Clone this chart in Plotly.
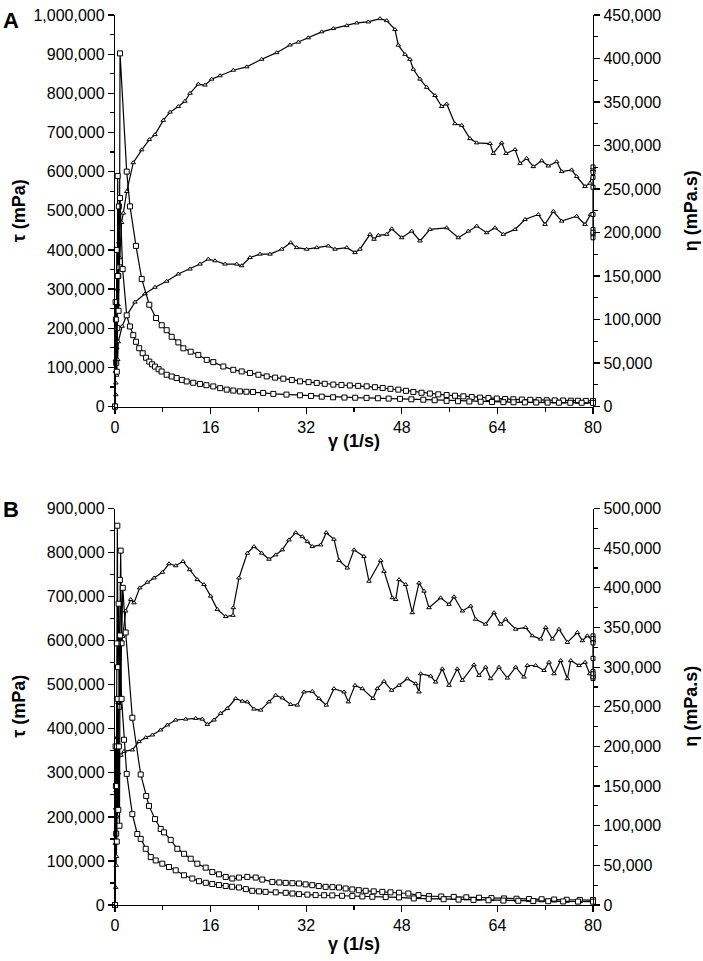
import plotly.graph_objects as go

# ---------------- Panel A data ----------------
gamma_tau_up_A = [0, 0.08, 0.15, 0.22, 0.3, 0.4, 0.5, 0.65, 0.8, 1.1, 1.39, 1.96, 3.06, 4.47, 5.74, 6.69, 8.08,
                  9.21, 10.6, 11.7, 12.55, 13.94, 15.06, 16.18, 17.57, 19.8, 22.04, 24.55, 27.06, 29.29, 30.68,
                  32.35, 34.59, 36.54, 38.78, 40.45, 42.39, 44.35, 45.47, 46.86, 47.41, 48.54, 49.37, 49.93,
                  51.05, 52.17, 53.56, 54.68, 55.51, 56.9, 58.03, 59.41, 60.54, 62.76, 63.32, 64.72, 65.44,
                  66.95, 67.78, 68.9, 70.01, 71.41, 72.52, 73.92, 74.76, 76.43, 77.27, 78.66, 79.5, 80]
tau_up_A = [0, 120000, 60000, 220000, 150000, 330000, 260000, 420000, 380000, 470000, 494000, 549000, 622800,
            655700, 681800, 694400, 730900, 751900, 766300, 779700, 800000, 823500, 821000, 836200, 844800,
            859000, 867600, 886800, 903800, 923300, 930900, 941800, 957000, 965300, 972900, 979700, 982300,
            990600, 985600, 962800, 923000, 899500, 886800, 861500, 836200, 815200, 794200, 766300, 772900,
            722300, 718200, 684300, 673400, 671600, 646300, 673400, 646300, 656400, 621000, 633700, 612700,
            627800, 614400, 625300, 600000, 604300, 587300, 562000, 570400, 604000]

gamma_tau_down_A = [0, 0.07, 0.14, 0.2, 0.28, 0.36, 0.45, 0.55, 1.2, 1.96, 3.35, 5.02, 6.69, 8.65, 10.59,
                    12.55, 14.23, 15.61, 16.74, 18.41, 20.37, 21.2, 22.59, 24.27, 25.94, 27.9, 29.4, 30.41,
                    32.08, 33.76, 35.7, 36.82, 38.78, 40.17, 41.0, 42.68, 43.35, 44.07, 45.47, 46.31, 47.98,
                    49.66, 51.05, 52.72, 55.51, 57.46, 59.13, 60.54, 62.21, 63.6, 64.99, 66.95, 68.62, 70.85,
                    71.97, 73.36, 74.76, 77.27, 78.66, 79.6]
tau_down_A = [0, 90000, 30000, 200000, 80000, 300000, 120000, 165300, 205000, 232900, 266600, 287800,
              304600, 320000, 338500, 351100, 363800, 376500, 372200, 363800, 363800, 359500, 380500, 389100,
              389100, 401800, 418500, 405800, 401800, 405800, 410100, 401800, 405800, 393200, 401800, 439700,
              427100, 437200, 439700, 453900, 431100, 448100, 422800, 452400, 456500, 431100, 448100, 460800,
              443800, 456500, 439700, 452400, 477700, 490400, 465100, 498700, 473400, 486100, 465100, 490400]

gamma_hold_A = [80, 80, 80, 80, 80, 80, 80, 80, 80, 80]
tau_hold_A = [604000, 440000, 612000, 431000, 598000, 452000, 585000, 445000, 560000, 490400]

gamma_eta_up_A = [0, 0.1, 0.2, 0.3, 0.38, 0.45, 0.55, 0.65, 0.75, 0.84, 1.96, 2.51, 3.51, 4.47, 5.74, 6.86,
                  7.82, 8.65, 9.49, 10.6, 11.44, 12.67, 13.94, 15.35, 16.45, 18.13, 19.8, 21.2, 22.59, 24.0,
                  25.39, 26.8, 28.17, 29.6, 30.96, 32.4, 33.76, 35.1, 36.54, 37.9, 39.3, 40.7, 42.12, 43.5,
                  44.8, 46.1, 47.41, 48.7, 49.93, 51.3, 52.7, 54.1, 55.51, 56.9, 58.3, 59.7, 61.09, 62.5,
                  63.9, 65.3, 66.67, 68.1, 69.5, 70.9, 72.25, 73.6, 75.0, 76.3, 77.5, 78.8, 80]
eta_up_A = [0, 120000, 50000, 180000, 90000, 265000, 150000, 230000, 160000, 405900, 270000, 230000, 184600,
            146600, 117000, 101700, 93400, 87700, 80100, 73700, 66900, 63000, 59300, 53600, 51000, 46000,
            42200, 40300, 38500, 36500, 34600, 33200, 32000, 30400, 28900, 28000, 27100, 26100, 25200, 24700,
            24200, 23700, 23200, 22200, 21300, 20300, 19400, 18000, 16700, 15800, 14900, 14000, 13200, 12400,
            11700, 10900, 10200, 9700, 9200, 8700, 8300, 8000, 7700, 7400, 7200, 7000, 6900, 6700, 6600,
            6500, 6400]

gamma_eta_down_A = [0, 0.15, 0.3, 0.45, 0.6, 0.84, 1.28, 1.96, 2.5, 3.06, 3.51, 4.05, 4.63, 5.2, 5.74, 6.2,
                    6.69, 7.3, 7.8, 8.65, 9.5, 10.32, 11.2, 12.0, 13.1, 14.23, 15.3, 16.45, 17.6, 18.7, 19.8,
                    20.9, 22.0, 23.1, 24.8, 26.5, 28.7, 30.96, 32.8, 34.6, 36.5, 38.4, 40.2, 42.1, 44.0, 45.8,
                    47.7, 49.6, 51.6, 53.5, 55.5, 57.4, 59.3, 61.2, 63.1, 65.0, 66.7, 68.6, 70.5, 72.4, 74.3,
                    76.2, 78.1, 80]
eta_down_A = [0, 100000, 40000, 150000, 110000, 239600, 158000, 104800, 92000, 82000, 74400, 67000, 61200,
              56000, 51600, 48500, 45900, 42800, 40200, 36500, 34500, 32700, 30600, 28800, 27300, 25900,
              24500, 23100, 21100, 19400, 18300, 17400, 17000, 16700, 15600, 14500, 13700, 12900, 12100,
              11300, 10600, 10300, 10100, 9900, 9500, 9100, 8800, 8300, 7800, 7200, 6500, 6100, 5800, 5500,
              5200, 5000, 4900, 4700, 4600, 4500, 4400, 4300, 4300, 4200]

# ---------------- Panel B data ----------------
gamma_tau_up_B = [0, 0.1, 0.2, 0.3, 0.4, 0.5, 0.6, 0.75, 0.9, 1.1, 1.3, 1.79, 2.63, 3.18, 4.13, 5.41, 6.53,
                  7.92, 9.04, 10.16, 11.38, 12.5, 13.77, 14.9, 16.01, 17.12, 18.53, 19.75, 19.8, 20.75, 22.14,
                  23.26, 24.55, 25.77, 26.89, 28.0, 29.12, 30.24, 31.35, 32.19, 33.02, 34.43, 35.36, 36.65,
                  37.49, 38.88, 40.0, 41.67, 42.51, 44.47, 45.02, 46.42, 46.98, 47.53, 48.65, 49.76, 50.88,
                  51.72, 52.55, 54.5, 55.9, 56.74, 58.13, 59.53, 60.36, 62.03, 63.43, 64.55, 65.38, 67.06,
                  68.73, 69.85, 71.24, 72.08, 73.2, 74.31, 75.71, 77.38, 78.22, 79.05, 80]
tau_up_B = [0, 220000, 90000, 380000, 200000, 460000, 300000, 560000, 450000, 600000, 610000, 667600,
            693700, 686000, 720000, 732800, 742500, 755300, 774700, 770300, 780000, 761300, 738700, 727500,
            701300, 671200, 654800, 657700, 675000, 742500, 798800, 813800, 798800, 785000, 795000, 806300,
            828800, 845300, 836300, 825000, 813800, 817500, 845300, 830300, 782300, 765000, 806300, 791300,
            735000, 782300, 757500, 697500, 693700, 738700, 727500, 663700, 731200, 712500, 675000, 697500,
            682500, 699700, 667500, 678700, 648700, 637500, 663700, 637500, 648700, 626200, 630000, 611200,
            603700, 630000, 603700, 626200, 596200, 618700, 600000, 611200, 600000]

gamma_tau_down_B = [0, 0.06, 0.12, 0.18, 0.25, 0.32, 0.39, 1.0, 1.51, 2.9, 4.02, 5.14, 6.25, 7.64, 8.76,
                    10.16, 11.83, 13.5, 14.6, 15.45, 16.57, 17.68, 18.8, 20.2, 21.3, 22.14, 23.26, 24.38,
                    25.77, 26.89, 28.0, 29.4, 30.51, 31.63, 33.02, 34.14, 35.36, 36.65, 38.33, 39.05, 40.17,
                    41.39, 43.18, 43.9, 45.02, 46.3, 47.53, 48.93, 50.33, 50.88, 51.16, 52.83, 53.67, 54.78,
                    55.9, 57.29, 58.13, 60.08, 60.92, 62.03, 62.87, 64.27, 65.66, 67.06, 68.45, 69.01, 70.4,
                    71.8, 72.64, 73.48, 74.59, 75.71, 76.27, 77.66, 78.67, 79.45]
tau_down_B = [0, 140000, 40000, 260000, 110000, 380000, 326000, 340000, 348700, 352000, 371000, 380000,
              386000, 397500, 408700, 420000, 422000, 423700, 422000, 410000, 420000, 435000, 446200, 468700,
              462700, 461200, 444700, 442500, 461200, 476200, 470200, 455200, 453700, 483700, 485200, 468700,
              453700, 491200, 483700, 461200, 498700, 491200, 468700, 491200, 507700, 487500, 498700, 513700,
              502500, 483700, 525000, 519700, 506200, 536200, 498700, 536200, 510000, 545200, 521200, 540000,
              513700, 540000, 515200, 540000, 517500, 543700, 543700, 532500, 551200, 525000, 555000, 513700,
              555000, 543700, 551200, 525000]

gamma_hold_B = [80, 80, 80, 80, 80, 80, 80, 80, 80, 80]
tau_hold_B = [600000, 514000, 611000, 520000, 605000, 530000, 595000, 518000, 560000, 525000]

gamma_eta_up_B = [0, 0.1, 0.2, 0.3, 0.39, 0.5, 0.6, 0.7, 0.82, 0.95, 1.1, 1.3, 1.79, 2.9, 4.3, 5.22, 5.69,
                  6.7, 7.65, 8.2, 9.32, 10.43, 11.55, 12.67, 13.78, 15.18, 16.28, 17.4, 18.53, 19.63, 20.75,
                  22.14, 23.55, 24.65, 26.33, 27.5, 28.57, 29.7, 30.8, 31.9, 33.02, 34.1, 35.25, 36.4, 37.49,
                  38.6, 39.72, 40.8, 41.96, 43.3, 44.74, 46.1, 47.53, 49.1, 50.8, 52.55, 54.6, 56.7, 58.8,
                  60.92, 63.0, 65.1, 67.2, 69.29, 71.4, 73.5, 75.6, 77.8, 80]
eta_up_B = [0, 200000, 90000, 330000, 478400, 300000, 380000, 250000, 410000, 447000, 330000, 400000,
            343700, 236200, 164600, 137500, 125000, 108400, 95900, 91600, 82100, 70900, 64600, 58400, 52100,
            47100, 41600, 38700, 35400, 33400, 34600, 35400, 34600, 32100, 29100, 28400, 27900, 27500, 27100,
            26000, 25000, 23900, 22900, 22500, 22100, 20800, 19600, 18700, 17900, 17200, 16600, 16000, 15400,
            14500, 12500, 11200, 10700, 10200, 9700, 9200, 8700, 8300, 7900, 7500, 7200, 6900, 6600, 6400,
            6250]

gamma_eta_down_B = [0, 0.15, 0.3, 0.45, 0.55, 0.65, 0.75, 0.85, 1.1, 1.51, 1.96, 2.9, 3.73, 4.3, 5.14, 5.98,
                    6.81, 7.92, 9.04, 10.16, 11.55, 12.94, 14.06, 15.2, 16.28, 17.4, 18.53, 19.6, 20.75, 21.9,
                    22.97, 24.1, 25.2, 26.9, 28.57, 29.7, 30.8, 32.2, 33.58, 35.0, 36.37, 38.0, 39.72, 41.4,
                    43.07, 45.3, 47.53, 50.0, 52.5, 55.0, 57.5, 60.0, 62.5, 65.0, 67.5, 70.0, 72.5, 75.0,
                    77.5, 80]
eta_down_B = [0, 150000, 80000, 260000, 120000, 200000, 100000, 340000, 260000, 208400, 165400, 114600,
              89600, 83400, 70900, 60400, 56200, 52100, 47900, 43700, 37500, 33400, 30000, 28000, 26500, 25200,
              24000, 23000, 22100, 20000, 17900, 17200, 16600, 16000, 15400, 14500, 13700, 13100, 12500, 12300,
              12100, 11600, 11200, 10800, 10400, 10000, 9600, 8300, 7800, 7300, 6800, 6400, 6000, 5600, 5300,
              5000, 4800, 4500, 4300, 4200]

# axis labels / ticks
x_ticks = [0, 16, 32, 48, 64, 80]
x_title = "γ (1/s)"
left_title = "τ (mPa)"
right_title = "η (mPa.s)"
panel_labels = ["A", "B"]

FONT = "Liberation Sans, Arial, sans-serif"

fig = go.Figure()


def add(x, y, xa, ya, symbol, size):
    fig.add_trace(go.Scatter(
        x=x, y=y, xaxis=xa, yaxis=ya, mode="lines+markers",
        line=dict(color="black", width=1.2),
        marker=dict(symbol=symbol, size=size, color="white", line=dict(color="black", width=1)),
        cliponaxis=False, showlegend=False, hoverinfo="skip"))


# Panel A
add(gamma_tau_up_A, tau_up_A, "x", "y", "triangle-up", 4)
add(gamma_tau_down_A, tau_down_A, "x", "y", "triangle-up", 4)
add(gamma_hold_A, tau_hold_A, "x", "y", "square", 4)
add(gamma_eta_up_A, eta_up_A, "x", "y2", "square", 5)
add(gamma_eta_down_A, eta_down_A, "x", "y2", "square", 5)
# Panel B
add(gamma_tau_up_B, tau_up_B, "x2", "y3", "triangle-up", 4)
add(gamma_tau_down_B, tau_down_B, "x2", "y3", "triangle-up", 4)
add(gamma_hold_B, tau_hold_B, "x2", "y3", "square", 4)
add(gamma_eta_up_B, eta_up_B, "x2", "y4", "square", 5)
add(gamma_eta_down_B, eta_down_B, "x2", "y4", "square", 5)

axis_common = dict(showline=True, linecolor="black", linewidth=1.2, ticks="outside", ticklen=6,
                   tickwidth=1.2, tickcolor="black", showgrid=False, zeroline=False,
                   tickfont=dict(family=FONT, size=16, color="black"))


def xa(anchor):
    return dict(axis_common, anchor=anchor, domain=[0, 1], range=[0, 80], tickvals=x_ticks,
                minor=dict(dtick=8, ticks="outside", ticklen=4, tickcolor="black", tickwidth=1.2))


def ya(domain, rng, dtick, anchor, side="left", overlaying=None):
    d = dict(axis_common, domain=domain, range=rng, dtick=dtick, tick0=0, tickformat=",d",
             anchor=anchor, side=side,
             minor=dict(dtick=dtick / 2, ticks="outside", ticklen=4, tickcolor="black", tickwidth=1.2))
    if overlaying:
        d["overlaying"] = overlaying
    return d


domA = [0.5601, 1.0]
domB = [0.0, 0.4454]

fig.update_layout(
    width=703, height=961,
    margin=dict(l=115, r=110, t=7, b=56),
    paper_bgcolor="white", plot_bgcolor="white",
    font=dict(family=FONT, color="black"),
    separators=".,",
    hovermode=False,
    xaxis=xa("y"),
    yaxis=ya(domA, [0, 1000000], 100000, "x"),
    yaxis2=ya(domA, [0, 450000], 50000, "x", side="right", overlaying="y"),
    xaxis2=xa("y3"),
    yaxis3=ya(domB, [0, 900000], 100000, "x2"),
    yaxis4=ya(domB, [0, 500000], 50000, "x2", side="right", overlaying="y3"),
)


def px(page_x):
    return (page_x - 115) / 478.0


def py(page_y):
    return (905 - page_y) / 898.0


ann = []
title_font = dict(family=FONT, size=18, color="black")
for (ycen, ylab) in [(205, 437), (705, 944)]:
    ann.append(dict(text="<b>%s</b>" % left_title, xref="paper", yref="paper", x=px(19), y=py(ycen),
                    textangle=-90, showarrow=False, xanchor="center", yanchor="middle", font=title_font))
    ann.append(dict(text="<b>%s</b>" % right_title, xref="paper", yref="paper", x=px(691), y=py(ycen),
                    textangle=-90, showarrow=False, xanchor="center", yanchor="middle", font=title_font))
    ann.append(dict(text="<b>%s</b>" % x_title, xref="paper", yref="paper", x=px(354), y=py(ylab),
                    showarrow=False, xanchor="center", yanchor="middle", font=title_font))
for lab, yy in zip(panel_labels, [13, 506]):
    ann.append(dict(text="<b>%s</b>" % lab, xref="paper", yref="paper", x=px(11), y=py(yy),
                    showarrow=False, xanchor="center", yanchor="middle",
                    font=dict(family=FONT, size=22, color="black")))
fig.update_layout(annotations=ann)

fig.write_html("out.html", config={"displayModeBar": False, "staticPlot": True},
               post_script="document.body.style.margin='0px';")
